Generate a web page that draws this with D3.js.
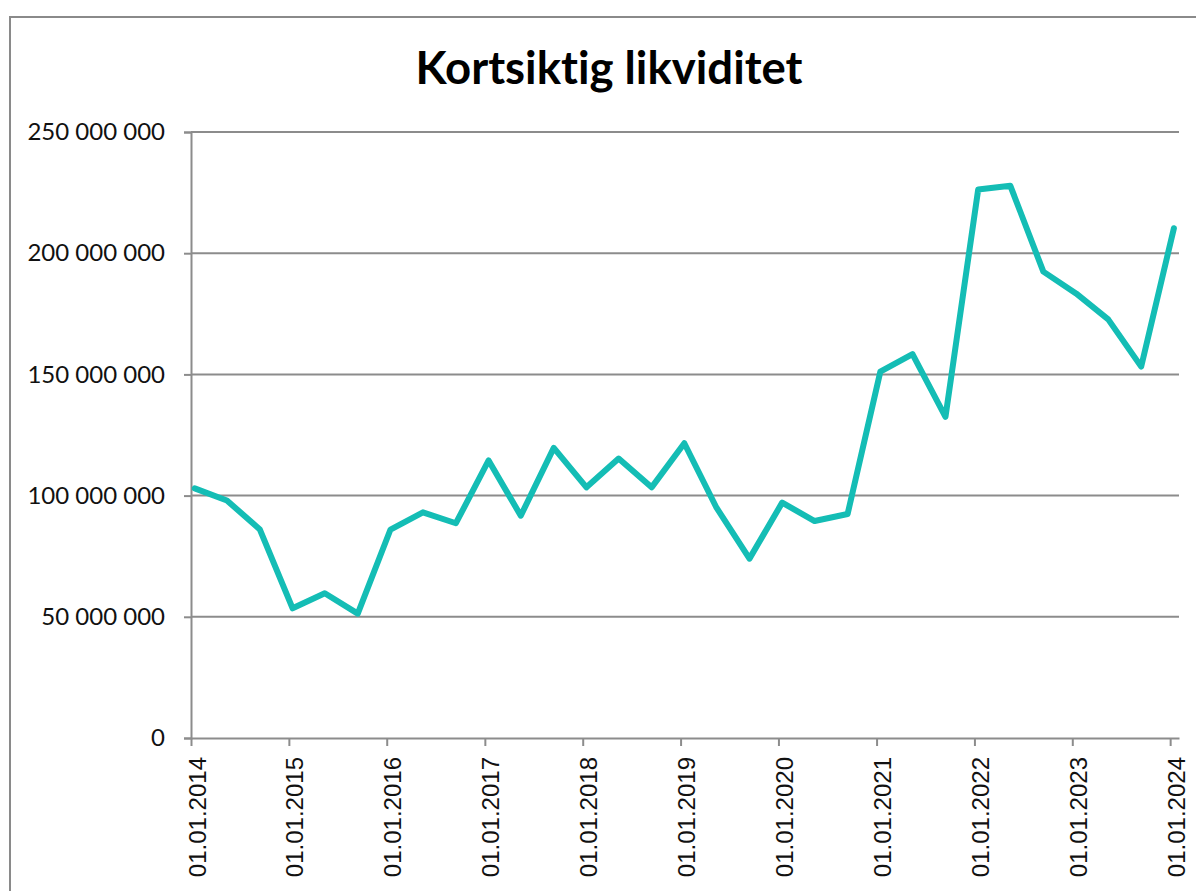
<!DOCTYPE html>
<html>
<head>
<meta charset="utf-8">
<script src="https://cdn.jsdelivr.net/npm/d3@7"></script>
<style>
  body { margin: 0; background: #fff; }
  svg { display: block; }
  text { font-variant-ligatures: none; }
</style>
</head>
<body>
<div id="chart"></div>
<script>
// dates (every 4 months) and values
var dates = [
  "2014-01-15", "2014-05-15", "2014-09-15",
  "2015-01-15", "2015-05-15", "2015-09-15",
  "2016-01-15", "2016-05-15", "2016-09-15",
  "2017-01-15", "2017-05-15", "2017-09-15",
  "2018-01-15", "2018-05-15", "2018-09-15",
  "2019-01-15", "2019-05-15", "2019-09-15",
  "2020-01-15", "2020-05-15", "2020-09-15",
  "2021-01-15", "2021-05-15", "2021-09-15",
  "2022-01-15", "2022-05-15", "2022-09-15",
  "2023-01-15", "2023-05-15", "2023-09-15",
  "2024-01-15"
];
var values = [
  103000000, 98000000, 86000000,
  53500000, 59700000, 51300000,
  86000000, 93100000, 88600000,
  114500000, 91700000, 119700000,
  103400000, 115300000, 103400000,
  121600000, 95000000, 74000000,
  97100000, 89500000, 92400000,
  151100000, 158400000, 132500000,
  226300000, 227800000, 192400000,
  183400000, 172700000, 153200000,
  210300000
];
var yTicks = [0, 50000000, 100000000, 150000000, 200000000, 250000000];
var xTickYears = d3.range(2014, 2025);
var title = "Kortsiktig likviditet";

var W = 1196, H = 891;
var parse = d3.timeParse("%Y-%m-%d");
var data = dates.map(function (d, i) { return { date: parse(d), value: values[i] }; });

var nb = d3.formatLocale({ decimal: ",", thousands: "\u00a0", grouping: [3], currency: ["", " kr"] });
var fmtY = nb.format(",d");
var fmtX = d3.timeFormat("%d.%m.%Y");

var svg = d3.select("#chart").append("svg")
  .attr("width", W)
  .attr("height", H);

// outer frame (runs off the right and bottom)
svg.append("rect")
  .attr("x", 10).attr("y", 17)
  .attr("width", 1300).attr("height", 1000)
  .attr("fill", "#fff")
  .attr("stroke", "#8a8a8a")
  .attr("stroke-width", 2);

svg.append("text")
  .attr("x", 609).attr("y", 84)
  .attr("text-anchor", "middle")
  .style("font-family", "Lato, 'Open Sans', sans-serif")
  .style("font-weight", "bold")
  .style("font-size", "45.5px")
  .text(title);

var x = d3.scaleTime()
  .domain([new Date(2014, 0, 1), new Date(2024, 1, 3)])
  .range([191, 1179]);
var y = d3.scaleLinear()
  .domain([0, 250000000])
  .range([738, 132]);

// gridlines
svg.append("g").selectAll("line")
  .data(yTicks.filter(function (d) { return d > 0; }))
  .enter().append("line")
  .attr("x1", 191).attr("x2", 1179)
  .attr("y1", function (d) { return y(d); })
  .attr("y2", function (d) { return y(d); })
  .attr("stroke", "#8c8c8c")
  .attr("stroke-width", 2);

// y axis
var yAxis = svg.append("g")
  .attr("transform", "translate(191,0)")
  .call(d3.axisLeft(y).tickValues(yTicks).tickSize(7).tickPadding(19).tickFormat(fmtY));
yAxis.select(".domain").attr("stroke", "#8c8c8c").attr("stroke-width", 2);
yAxis.selectAll(".tick line").attr("stroke", "#8c8c8c").attr("stroke-width", 2);
yAxis.selectAll("text")
  .attr("fill", "#111")
  .style("font-family", "Lato, 'Open Sans', sans-serif")
  .style("font-size", "24px");

// x axis
var xAxis = svg.append("g")
  .attr("transform", "translate(0,738)")
  .call(d3.axisBottom(x)
    .tickValues(xTickYears.map(function (yr) { return new Date(yr, 0, 1); }))
    .tickSize(8).tickSizeOuter(0).tickFormat(fmtX));
xAxis.select(".domain").attr("stroke", "#8c8c8c").attr("stroke-width", 2);
xAxis.selectAll(".tick line").attr("stroke", "#8c8c8c").attr("stroke-width", 2);
xAxis.selectAll("text")
  .attr("transform", "rotate(-90)")
  .attr("text-anchor", "end")
  .attr("x", -19)
  .attr("y", 14)
  .attr("dy", 0)
  .attr("fill", "#111")
  .style("font-family", "'Liberation Sans', Arial, sans-serif")
  .style("font-size", "24px");
svg.selectAll(".domain").attr("fill", "none");

// the series line
var line = d3.line()
  .x(function (d) { return x(d.date); })
  .y(function (d) { return y(d.value); });

svg.append("path")
  .datum(data)
  .attr("d", line)
  .attr("fill", "none")
  .attr("stroke", "#14bdb5")
  .attr("stroke-width", 6)
  .attr("stroke-linejoin", "round")
  .attr("stroke-linecap", "round");
</script>
</body>
</html>
